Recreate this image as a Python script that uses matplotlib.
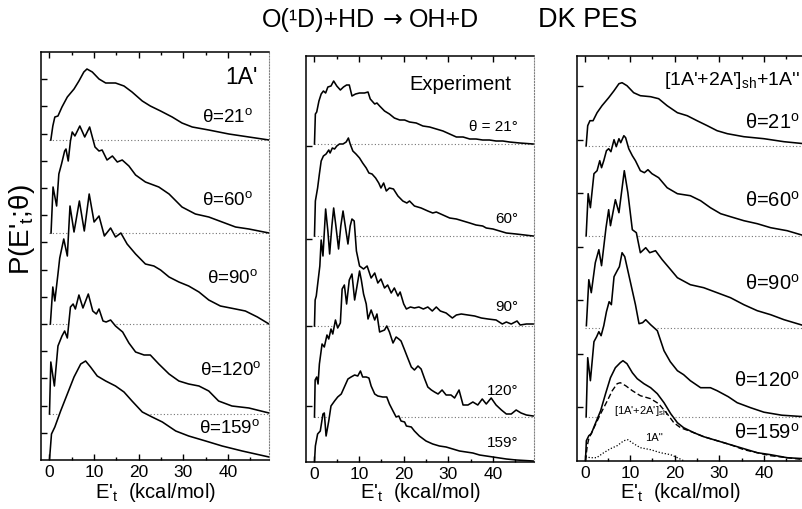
import numpy as np
import matplotlib
matplotlib.use("Agg")
import matplotlib.pyplot as plt

plt.rcParams["font.family"] = ["Liberation Sans", "DejaVu Sans"]
plt.rcParams["mathtext.fontset"] = "custom"
plt.rcParams["mathtext.rm"] = "Liberation Sans"
plt.rcParams["mathtext.it"] = "Liberation Sans:italic"
plt.rcParams["mathtext.bf"] = "Liberation Sans:bold"

# ── data: (E't in kcal/mol, P above the curve's own baseline) ─────────
angles = [21, 60, 90, 120, 159]

# baselines (offsets) of the stacked curves, same units as P
oneA_base = [320, 227, 136, 46, 0]
exp_base = [318, 226, 136, 45, 0]
sum_base = [315, 225, 133, 44, 0]

# panel 1 : 1A'
oneA_21 = [(0.3, 0), (0.75, 14), (1.2, 23), (1.9, 24), (2.8, 33), (4.0, 43), (5.5, 51),
           (6.6, 59), (7.7, 68), (8.4, 71), (9.6, 68), (11.1, 61), (12.6, 57), (14.8, 57),
           (16.7, 54), (18.5, 48), (20.8, 39), (22.6, 34), (24.9, 29), (27.5, 23),
           (29.7, 17), (32.0, 13), (35.7, 10), (40.2, 6), (44.7, 3), (49.2, 0)]
oneA_60 = [(0.35, 0), (0.8, 46), (1.6, 27), (2.1, 59), (2.7, 69), (3.4, 82), (3.7, 84),
           (4.2, 72), (4.7, 92), (5.1, 101), (5.7, 97), (6.8, 107), (7.9, 96), (9.0, 106),
           (10.2, 86), (11.1, 82), (11.8, 83), (12.9, 73), (14.1, 77), (15.2, 71),
           (16.3, 73), (17.8, 67), (19.3, 58), (21.5, 51), (24.5, 46), (26.8, 39),
           (29.7, 26), (32.7, 19), (35.7, 16), (38.7, 11), (41.7, 6), (44.7, 4), (49.2, 0)]
oneA_90 = [(0.2, 0), (0.75, 37), (1.2, 23), (1.9, 50), (2.3, 66), (3.2, 85), (4.0, 68),
           (4.6, 118), (5.5, 92), (6.7, 123), (7.8, 93), (8.9, 130), (10.0, 102),
           (11.1, 108), (12.3, 88), (13.7, 96), (14.8, 87), (16.0, 91), (17.4, 80),
           (19.3, 70), (21.5, 60), (23.4, 58), (24.9, 54), (26.8, 47), (29.0, 42),
           (31.2, 38), (33.5, 32), (35.7, 24), (38.3, 18), (41.7, 15), (43.9, 13),
           (46.6, 7), (49.2, 0)]
oneA_120 = [(0.0, 0), (0.3, 52), (1.1, 28), (1.9, 68), (2.8, 78), (3.4, 83), (4.0, 76),
            (4.7, 107), (5.3, 110), (5.8, 105), (6.6, 119), (7.5, 106), (8.7, 120),
            (9.7, 103), (10.5, 100), (11.1, 105), (12.0, 93), (12.7, 92), (13.7, 94),
            (14.8, 88), (16.4, 82), (17.8, 71), (19.3, 62), (21.2, 59), (22.6, 59),
            (24.5, 50), (26.8, 40), (29.0, 33), (31.2, 30), (33.5, 28), (35.7, 23),
            (37.9, 13), (40.9, 8), (44.7, 6), (49.2, 1)]
oneA_159 = [(0.0, 0), (0.45, 26), (1.2, 33), (2.5, 49), (4.0, 66), (5.5, 83), (7.0, 96),
            (8.1, 99), (9.2, 93), (10.7, 84), (12.6, 79), (14.8, 74), (16.7, 68),
            (18.5, 59), (20.8, 48), (23.0, 43), (25.3, 38), (28.3, 29), (31.2, 24),
            (35.0, 19), (38.7, 14), (43.2, 9), (49.2, 3)]

# panel 2 : experiment
exp_21 = [(0.0, 0), (0.2, 30), (0.5, 32), (1.0, 43), (1.5, 50), (2.0, 53), (2.5, 51),
          (3.0, 57), (3.7, 58), (4.3, 63), (5.0, 58), (5.8, 54), (6.5, 57), (7.2, 59),
          (7.8, 59), (8.4, 48), (9.2, 50), (10.1, 51), (11.2, 51), (12.0, 52), (12.5, 45),
          (13.5, 40), (14.0, 41), (14.6, 38), (15.7, 33), (16.8, 30), (17.9, 26),
          (19.1, 24), (20.2, 24), (21.3, 22), (22.8, 21), (24.3, 18), (25.8, 17),
          (27.3, 15), (28.8, 13), (30.3, 10), (31.8, 7), (33.3, 7), (34.8, 5), (36.2, 5),
          (37.7, 4), (39.2, 4), (40.7, 3), (42.2, 3), (43.7, 2), (46.0, 1), (49.0, 0)]
exp_60 = [(0.0, 0), (0.2, 35), (0.7, 48), (1.1, 62), (1.5, 75), (2.0, 80), (2.6, 82),
          (3.2, 86), (3.5, 83), (4.0, 88), (4.5, 87), (5.0, 90), (5.6, 92), (6.4, 92),
          (7.1, 94), (7.6, 98), (8.0, 92), (8.6, 85), (9.3, 82), (10.1, 78), (10.8, 73),
          (11.6, 68), (12.2, 63), (12.9, 62), (13.7, 58), (14.4, 53), (14.9, 48),
          (15.5, 53), (16.1, 45), (16.8, 48), (17.7, 47), (18.7, 40), (19.8, 35),
          (20.7, 33), (21.3, 35), (22.4, 30), (23.9, 28), (25.4, 25), (26.5, 23),
          (27.3, 24), (28.8, 21), (30.3, 18), (31.8, 17), (33.3, 15), (34.8, 13),
          (36.2, 11), (37.7, 10), (38.5, 8), (40.0, 7), (41.5, 5), (43.0, 3), (45.2, 2),
          (49.0, 0)]
exp_90 = [(0.0, 0), (0.15, 26), (0.4, 30), (0.8, 45), (1.2, 60), (1.5, 86), (1.9, 70),
          (2.5, 117), (3.0, 95), (3.4, 72), (3.9, 100), (4.3, 118), (4.8, 100), (5.4, 77),
          (5.9, 100), (6.4, 115), (6.9, 100), (7.5, 82), (8.0, 100), (8.4, 107),
          (8.9, 105), (9.4, 75), (10.1, 60), (11.0, 57), (11.8, 60), (12.7, 48),
          (13.5, 53), (14.2, 43), (14.9, 47), (15.7, 38), (16.4, 41), (17.2, 33),
          (17.9, 38), (18.7, 30), (19.2, 34), (20.0, 22), (20.6, 17), (21.5, 19),
          (22.4, 18), (23.4, 19), (24.4, 17), (25.4, 19), (26.4, 15), (27.3, 19),
          (28.2, 15), (29.5, 13), (30.9, 8), (31.8, 11), (32.9, 12), (34.4, 11),
          (35.9, 10), (37.4, 8), (38.9, 7), (40.7, 6), (42.1, 2), (43.0, 4), (44.1, 2),
          (45.4, 5), (46.1, 1), (47.5, 2), (49.0, 2)]
exp_120 = [(0.0, 0), (0.15, 37), (0.5, 40), (0.8, 33), (1.1, 53), (1.7, 73), (2.2, 70),
           (2.8, 82), (3.2, 78), (3.7, 88), (4.1, 83), (4.7, 97), (5.2, 89), (5.8, 94),
           (6.2, 128), (6.7, 132), (7.2, 113), (7.8, 137), (8.4, 143), (9.0, 117),
           (9.5, 130), (10.1, 146), (10.5, 137), (11.0, 123), (11.6, 113), (12.0, 98),
           (12.7, 107), (13.5, 97), (14.0, 103), (14.6, 85), (15.7, 87), (16.2, 91),
           (16.8, 85), (17.6, 74), (18.3, 80), (18.9, 78), (19.4, 76), (20.2, 67),
           (20.9, 59), (21.7, 50), (22.4, 47), (23.2, 51), (23.9, 48), (24.7, 38),
           (25.4, 30), (26.2, 27), (26.9, 25), (27.7, 23), (28.6, 27), (29.5, 22),
           (30.6, 22), (31.4, 19), (32.4, 27), (33.3, 12), (34.4, 12), (35.5, 15),
           (36.6, 12), (37.6, 18), (38.5, 13), (39.6, 19), (40.7, 12), (41.9, 7),
           (43.0, 3), (44.1, 3), (45.2, 7), (46.3, 4), (47.5, 2), (49.0, 1)]
exp_159 = [(0.0, 0), (0.2, 16), (0.7, 28), (1.3, 31), (1.9, 48), (2.2, 49), (2.6, 26),
           (3.2, 41), (3.7, 56), (4.5, 61), (5.2, 65), (6.0, 68), (6.7, 75), (7.5, 83),
           (8.2, 85), (9.0, 87), (9.7, 86), (10.3, 91), (10.8, 85), (11.6, 85),
           (12.2, 84), (12.7, 76), (13.5, 68), (14.2, 66), (15.3, 65), (16.2, 65),
           (16.8, 58), (17.6, 51), (18.3, 45), (18.9, 46), (19.4, 41), (20.2, 40),
           (20.6, 36), (21.7, 35), (22.4, 31), (23.5, 26), (25.0, 21), (26.5, 18),
           (28.0, 16), (29.5, 15), (31.0, 13), (32.5, 11), (34.0, 10), (35.5, 9),
           (37.0, 7), (38.5, 6), (40.0, 5), (41.5, 4), (43.0, 3), (45.2, 2), (49.0, 1)]

# panel 3 : [1A'+2A']sh + 1A''
sum_21 = [(0.15, 0), (0.5, 20), (1.0, 25), (1.7, 25), (2.6, 33), (3.7, 40), (5.2, 48),
          (6.4, 55), (7.5, 62), (8.2, 63), (9.3, 60), (10.8, 53), (12.3, 50), (14.6, 49),
          (16.4, 47), (18.3, 40), (20.6, 33), (22.8, 30), (25.0, 25), (27.3, 20),
          (29.5, 15), (31.8, 12), (35.5, 9), (40.0, 7), (44.5, 4), (49.0, 2)]
sum_60 = [(0.15, 0), (0.6, 42), (1.1, 28), (1.9, 62), (2.6, 65), (3.2, 75), (3.6, 68),
          (4.1, 75), (4.7, 85), (5.2, 87), (5.7, 84), (6.4, 96), (6.9, 89), (7.5, 97),
          (7.9, 93), (8.6, 100), (9.0, 98), (9.7, 87), (10.5, 80), (11.2, 75), (12.3, 65),
          (13.2, 63), (14.0, 66), (14.9, 62), (16.4, 58), (18.3, 48), (20.6, 42),
          (23.5, 40), (25.8, 35), (28.0, 28), (30.3, 22), (32.5, 19), (35.5, 15),
          (38.5, 12), (41.5, 8), (45.2, 5), (49.0, 0)]
sum_90 = [(0.2, 2), (0.75, 48), (1.3, 35), (2.2, 65), (3.0, 78), (3.6, 62), (4.6, 100),
          (5.2, 118), (5.6, 102), (6.7, 128), (7.5, 115), (8.7, 157), (9.5, 135),
          (10.5, 98), (11.4, 95), (12.3, 75), (13.5, 80), (14.4, 75), (15.7, 77),
          (17.2, 68), (19.1, 58), (20.6, 50), (23.5, 43), (26.5, 40), (29.5, 35),
          (32.5, 30), (35.5, 23), (38.5, 17), (41.5, 13), (44.5, 8), (49.0, 2)]
sum_120 = [(0.15, 0), (0.5, 59), (1.1, 36), (1.9, 75), (2.5, 80), (3.0, 85), (3.5, 81),
           (4.1, 91), (4.7, 105), (5.3, 115), (5.8, 112), (6.4, 140), (7.1, 146),
           (7.6, 150), (8.2, 164), (8.8, 160), (9.3, 150), (10.1, 134), (11.2, 112),
           (12.0, 93), (12.8, 94), (13.5, 97), (14.6, 92), (16.1, 86), (17.6, 66),
           (19.0, 55), (20.6, 46), (22.0, 42), (23.5, 36), (25.8, 29), (28.0, 29),
           (29.5, 26), (32.0, 20), (34.0, 14), (37.0, 9), (40.0, 4.5), (44.0, 1.5),
           (49.0, 0)]
sum_159 = [(0.0, 0), (0.2, 20), (0.75, 25), (1.3, 27), (2.2, 37), (3.4, 50), (4.5, 67),
           (5.6, 83), (6.7, 93), (7.8, 98), (8.4, 100), (9.3, 97), (10.5, 88), (11.6, 82),
           (13.1, 77), (14.6, 73), (16.1, 67), (17.6, 58), (19.1, 47), (20.6, 38),
           (22.0, 33), (24.3, 28), (26.5, 24), (29.5, 20), (32.5, 16), (35.5, 12),
           (38.5, 8), (41.5, 6), (45.2, 3), (49.0, 2)]
sh_159 = [(0.0, 0), (0.4, 15), (0.75, 22), (1.9, 33), (3.4, 47), (4.9, 60), (6.0, 70),
          (7.1, 77), (7.8, 78), (9.0, 75), (10.5, 70), (12.3, 65), (14.6, 62), (16.4, 57),
          (18.3, 47), (19.8, 38), (21.3, 33), (24.3, 28), (26.5, 24), (29.5, 20),
          (32.5, 16), (35.5, 11), (38.5, 8), (41.5, 5), (45.2, 3), (49.0, 1)]
app_159 = [(0.0, 4), (1.1, 3), (2.5, 3), (4.1, 8), (5.6, 12), (7.1, 15), (8.6, 20),
           (9.5, 21), (10.8, 17), (12.3, 13), (14.6, 11), (16.8, 8), (19.1, 6), (20.6, 3),
           (22.0, 0)]

# ── figure ─────────────────────────────────────────────────────────────
W, H = 802, 510
fig = plt.figure(figsize=(W / 100, H / 100), dpi=100)


def ftext(x, y, s, **kw):
    return fig.text(x / W, 1 - y / H, s, **kw)


def add_panel(left, top, bottom, width=228):
    return fig.add_axes([left / W, 1 - bottom / H, width / W, (bottom - top) / H])


def draw_panel(ax, curves, bases, yticks):
    ax.set_xlim(-1.9, 49.2)
    ax.set_ylim(0, ax.get_position().height * H)
    grid = np.linspace(0, 49, 400)
    for i, (pts, b) in enumerate(zip(curves, bases)):
        e, p = np.array(pts).T
        ax.plot(e, b + p, color="black", lw=1.15, zorder=3)
        if b > 0:
            # dotted zero line, hidden where the curve below rises above it
            le, lp = np.array(curves[i + 1]).T
            below = bases[i + 1] + np.interp(grid, le, lp, left=0, right=0)
            ax.plot(grid, np.ma.masked_where(below > b - 2, np.full_like(grid, b)),
                    ls=(0, (1, 2)), color="0.45", lw=0.8, zorder=2)
    ax.set_xticks([0, 10, 20, 30, 40])
    ax.set_xticks([5, 15, 25, 35, 45], minor=True)
    ax.set_yticks(yticks)
    ax.set_yticklabels([])
    ax.tick_params(which="both", direction="in", top=True, right=False, width=1)
    ax.tick_params(which="major", length=4.5, labelsize=12.5, pad=3)
    ax.tick_params(which="minor", length=2.5)
    for s in ("left", "bottom", "top"):
        ax.spines[s].set_linewidth(1.1)
    ax.spines["right"].set_linestyle(":")
    ax.spines["right"].set_color("0.5")
    ax.spines["right"].set_linewidth(0.8)


ax1 = add_panel(41, 53, 461)
ax2 = add_panel(306, 57, 463)
ax3 = add_panel(577, 57, 461.7)

draw_panel(ax1, [oneA_21, oneA_60, oneA_90, oneA_120, oneA_159], oneA_base,
           np.arange(27.2, 400, 27.2))
draw_panel(ax2, [exp_21, exp_60, exp_90, exp_120, exp_159], exp_base,
           [56, 136, 223, 316])
draw_panel(ax3, [sum_21, sum_60, sum_90, sum_120, sum_159], sum_base,
           np.arange(53.5, 400, 53.5))

# components of the 159 deg curve in panel 3
e, p = np.array(sh_159).T
ax3.plot(e, p, color="black", lw=1.0, ls=(0, (4, 2)), zorder=3)
e, p = np.array(app_159).T
ax3.plot(e, p, color="black", lw=0.9, ls=(0, (1, 1.5)), zorder=3)
ax3.text(6.3, 48, "[1A'+2A']$_{\\mathrm{sh}}$", fontsize=8)
ax3.text(13.3, 21, "1A''", fontsize=8)

# ── texts ─────────────────────────────────────────────────────────────
ftext(262, 20, "O(\u00b9D)+HD", fontsize=18, va="center")
ftext(383, 20, "\u2192", fontsize=17, va="center", family="DejaVu Sans")
ftext(409, 20, "OH+D", fontsize=18, va="center")
ftext(538, 20, "DK PES", fontsize=19.5, va="center")
ftext(22, 230, "P(E'$_{\\mathrm{t}}$;\u03b8)", fontsize=20, rotation=90,
      ha="center", va="center")
for xc in (155, 420, 680):
    ftext(xc, 493, "E'$_{\\mathrm{t}}$  (kcal/mol)", fontsize=14.5,
          ha="center", va="center")

ftext(258, 83.5, "1A'", fontsize=16.5, ha="right", va="baseline")
ftext(460, 90, "Experiment", fontsize=14.5, ha="center", va="baseline")
ftext(800, 85, "[1A'+2A']$_{\\mathrm{sh}}$+1A''", fontsize=14, ha="right",
      va="baseline")

p1_lab = [(253, 121.7), (253, 205), (258, 283.3), (262, 375), (260, 433.3)]
p2_lab = [(518, 131), (518, 223.3), (518, 311), (518, 395), (518, 446.7)]
p3_lab = [(800, 128.3), (800, 206.7), (800, 290), (800, 386.7), (800, 438.3)]
for a, (x1, y1), (x2, y2), (x3, y3) in zip(angles, p1_lab, p2_lab, p3_lab):
    lab = "\u03b8=%d$^{\\mathrm{o}}$" % a
    ftext(x1, y1, lab, fontsize=13.5, ha="right", va="baseline")
    ftext(x3, y3, lab, fontsize=14.5, ha="right", va="baseline")
    exp_lab = "\u03b8 = %d\u00b0" % a if a == angles[0] else "%d\u00b0" % a
    ftext(x2, y2, exp_lab, fontsize=11, ha="right", va="baseline")

fig.savefig("out.png", dpi=100)
